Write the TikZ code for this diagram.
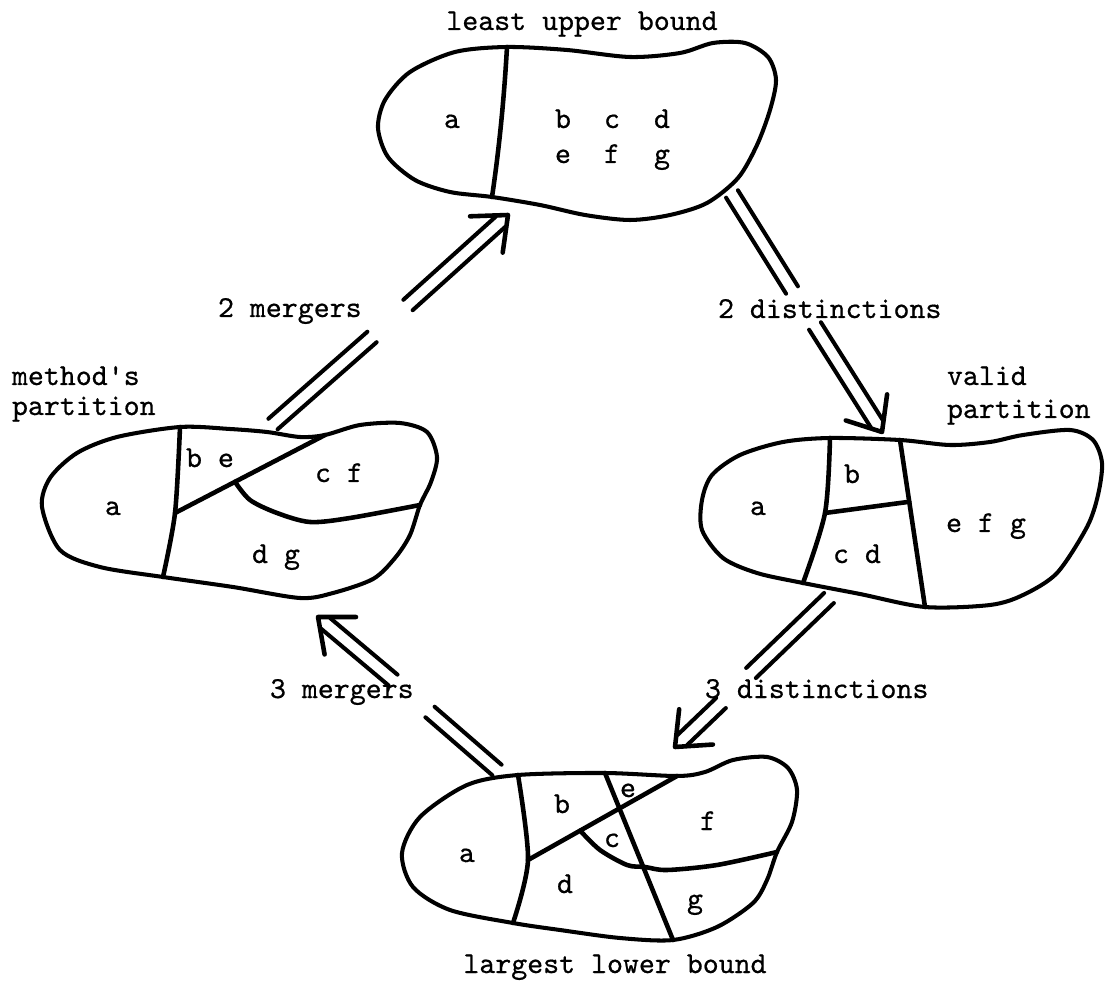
\documentclass[tikz,border=0pt]{standalone}
\usepackage{fontspec}
\setmonofont{lmmono10-regular.otf}[FakeBold=0.6]
\usetikzlibrary{calc}
\newcommand\twin[2]{%
  \draw[arrline] ($(#1)!0.14cm!90:(#2)$) -- ($(#2)!0.14cm!-90:(#1)$);
  \draw[arrline] ($(#1)!0.14cm!-90:(#2)$) -- ($(#2)!0.14cm!90:(#1)$);}
\newcommand\twintip[2]{%
  \coordinate (tmpS) at ($(#2)!0.2cm!(#1)$);
  \twin{#1}{tmpS}
  \draw[arrline, line width=2.6pt] ($(#2)!0.76cm!40:(#1)$) -- (#2) -- ($(#2)!0.76cm!-40:(#1)$);}
\begin{document}
\begin{tikzpicture}[x=0.02cm,y=-0.02cm,
  blob/.style={line width=2.3pt, line join=round},
  wall/.style={line width=2.6pt, line cap=round},
  arrline/.style={line width=2.3pt, line cap=round, line join=round},
  lbl/.style={inner sep=0pt, outer sep=0pt, font=\ttfamily\fontsize{17.3}{20}\selectfont},
]
\useasboundingbox (0,0) rectangle (1105,982);

% ---------- top blob: least upper bound
\draw[blob] plot[smooth cycle] coordinates {(507,47) (567,50) (630,57) (680,53) (713,43) (745,43) (768,57) (776,80) (770,110) (757,145) (738,178) (707,203) (670,215) (630,220) (585,215) (540,205) (492,197) (450,192) (415,180) (388,157) (378,128) (385,100) (410,72) (455,52)};
\coordinate (T1) at (507,47);
\coordinate (T2) at (492,197);
\draw[wall] (T1) .. controls (504,100) and (499,150) .. (T2);
\node[lbl, anchor=base] (ta) at (452,128) {a};
\node[lbl, anchor=base] (tb) at (563,128) {b};
\node[lbl, anchor=base] (tc) at (612,128) {c};
\node[lbl, anchor=base] (td) at (662,128) {d};
\node[lbl, anchor=base] (te) at (563,163) {e};
\node[lbl, anchor=base] (tf) at (612,163) {f};
\node[lbl, anchor=base] (tg) at (662,163) {g};
\node[lbl, anchor=base] (lub) at (582,30) {least upper bound};

% ---------- left blob: method's partition
\draw[blob] plot[smooth cycle] coordinates {(180,427) (230,429) (267,432) (300,437) (325,435) (360,425) (400,423) (427,432) (437,457) (431,482) (420,505) (410,535) (395,558) (373,579) (333,593) (300,598) (233,587) (163,577) (100,567) (60,550) (42,507) (50,478) (77,453) (117,437)};
\coordinate (L0) at (180,427);
\coordinate (L1) at (175,513);
\coordinate (L4) at (163,577);
\coordinate (L2) at (325,435);
\coordinate (L3) at ($(L1)!0.4!(L2)$);
\coordinate (L5) at (420,505);
\draw[wall] plot[smooth] coordinates {(L0) (L1) (L4)};
\draw[wall] (L1) -- (L2);
\draw[wall] plot[smooth] coordinates {(L3) (250,500) (277,513) (310,522) (350,518) (L5)};
\node[lbl, anchor=base] (la) at (113,515) {a};
\node[lbl, anchor=base] (lbe) at (210,467) {b e};
\node[lbl, anchor=base] (lcf) at (339,482) {c f};
\node[lbl, anchor=base] (ldg) at (276,563) {d g};
\node[lbl, anchor=base west] (meth1) at (12,385) {method's};
\node[lbl, anchor=base west] (meth2) at (12,415) {partition};

% ---------- right blob: valid partition
\draw[blob] plot[smooth cycle] coordinates {(830,438) (900,440) (950,445) (990,442) (1023,435) (1070,430) (1093,440) (1102,463) (1098,495) (1087,527) (1057,573) (1023,595) (990,605) (925,607) (860,594) (803,583) (757,573) (723,558) (702,530) (702,500) (712,475) (740,455) (783,442)};
\coordinate (R1a) at (830,438);
\coordinate (R1m) at (825,513);
\coordinate (R1b) at (803,583);
\coordinate (R2a) at (900,440);
\coordinate (R2b) at (925,607);
\coordinate (R2m) at ($(R2a)!0.37!(R2b)$);
\draw[wall] plot[smooth] coordinates {(R1a) (R1m) (R1b)};
\draw[wall] (R2a) -- (R2b);
\draw[wall] (R1m) -- (R2m);
\node[lbl, anchor=base] (ra) at (758,515) {a};
\node[lbl, anchor=base] (rb) at (852,483) {b};
\node[lbl, anchor=base] (rcd) at (857,563) {c d};
\node[lbl, anchor=base] (refg) at (986,532) {e f g};
\node[lbl, anchor=base west] (val1) at (947,385) {valid};
\node[lbl, anchor=base west] (val2) at (947,418) {partition};

% ---------- bottom blob: largest lower bound
\draw[blob] plot[smooth cycle] coordinates {(518,775) (605,773) (677,776) (705,772) (733,760) (767,757) (788,768) (797,790) (792,822) (777,852) (767,880) (753,903) (717,927) (673,940) (620,938) (560,930) (513,923) (450,910) (413,887) (402,853) (420,817) (467,785)};
\coordinate (B1a) at (518,775);
\coordinate (B1m) at (528,860);
\coordinate (B1b) at (513,923);
\coordinate (B2a) at (605,773);
\coordinate (B2b) at (673,940);
\coordinate (B3) at (677,776);
\coordinate (B4) at ($(B1m)!0.35!(B3)$);
\coordinate (B5) at (777,852);
\draw[wall] plot[smooth] coordinates {(B1a) (B1m) (B1b)};
\draw[wall] (B2a) -- (B2b);
\draw[wall] (B1m) -- (B3);
\draw[wall] plot[smooth] coordinates {(B4) (600,850) (627,865) (645,867) (667,870) (717,865) (B5)};
\node[lbl, anchor=base] (ba) at (467,862) {a};
\node[lbl, anchor=base] (bb) at (562,813) {b};
\node[lbl, anchor=base] (be) at (628,797) {e};
\node[lbl, anchor=base] (bc) at (612,847) {c};
\node[lbl, anchor=base] (bf) at (708,830) {f};
\node[lbl, anchor=base] (bd) at (565,893) {d};
\node[lbl, anchor=base] (bg) at (695,908) {g};
\node[lbl, anchor=base] (llb) at (615,973) {largest lower bound};

% ---------- arrows
\coordinate (A0) at (273,424);
\coordinate (A1) at (372,337);
\coordinate (A2) at (408,305);
\coordinate (AT) at (508,215);
\twin{A0}{A1}
\twintip{A2}{AT}
\node[lbl, anchor=base west] (m2) at (218,317) {2 mergers};

\coordinate (C0) at (732,194);
\coordinate (C1) at (792,290);
\coordinate (C2) at (815,326);
\coordinate (CT) at (882,432);
\twin{C0}{C1}
\twintip{C2}{CT}
\node[lbl, anchor=base west] (d2) at (718,318) {2 distinctions};

\coordinate (E0) at (829,598);
\coordinate (E1) at (751,673);
\coordinate (E2) at (721,703);
\coordinate (ET) at (675,747);
\twin{E0}{E1}
\twintip{E2}{ET}
\node[lbl, anchor=base west] (d3) at (705,698) {3 distinctions};

\coordinate (D0) at (497,770);
\coordinate (D1) at (430,712);
\coordinate (D2) at (393,680);
\coordinate (DT) at (318,617);
\twin{D0}{D1}
\twintip{D2}{DT}
\node[lbl, anchor=base west] (m3) at (270,698) {3 mergers};
\end{tikzpicture}
\end{document}
